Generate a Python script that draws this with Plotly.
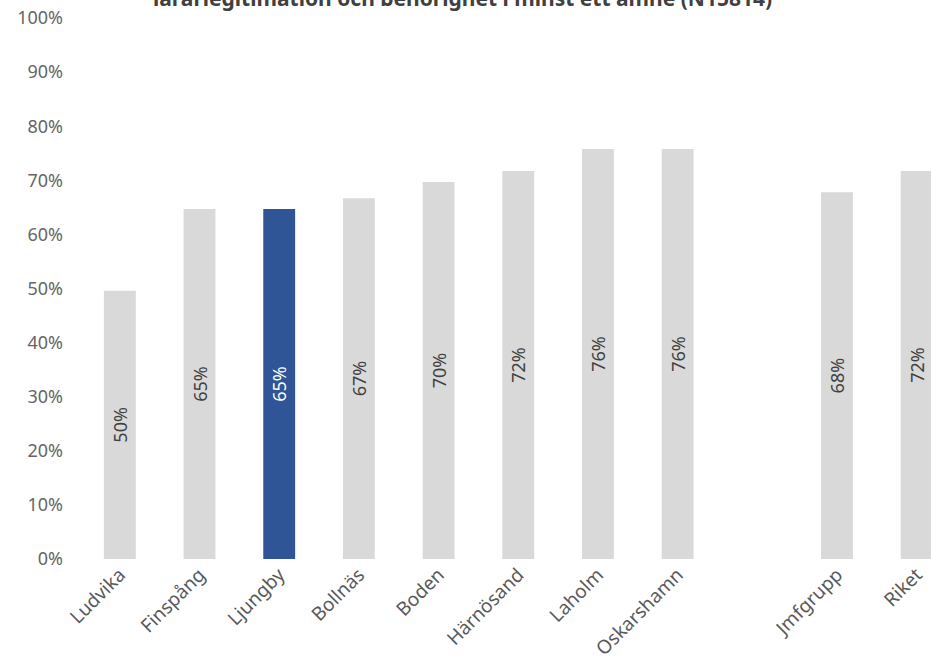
import plotly.graph_objects as go

categories = ["Ludvika", "Finspång", "Ljungby", "Bollnäs", "Boden", "Härnösand",
              "Laholm", "Oskarshamn", " ", "Jmfgrupp", "Riket"]
values = [49.6, 64.7, 64.7, 66.7, 69.7, 71.7, 75.8, 75.8, None, 67.8, 71.7]
highlight = "Ljungby"
title_text = "lärarlegitimation och behörighet i minst ett ämne (N15814)"
y_ticks = list(range(0, 101, 10))
y_ticklabels = [f"{t}%" for t in y_ticks]

colors = ["#2F5597" if c == highlight else "#D9D9D9" for c in categories]
text_colors = ["#FFFFFF" if c == highlight else "#404040" for c in categories]
labels = [f"{round(v)}%" if v is not None else "" for v in values]

font_family = "Noto Sans, Open Sans, sans-serif"

fig = go.Figure(go.Bar(
    x=categories, y=values,
    marker=dict(color=colors, line=dict(width=0)),
    width=0.4,
    text=labels,
    textposition="inside",
    insidetextanchor="middle",
    textangle=-90,
    textfont=dict(family=font_family, size=18, color=text_colors),
    cliponaxis=False,
    hoverinfo="skip",
))

fig.update_layout(
    width=931, height=665,
    margin=dict(l=80, r=0, t=18, b=106),
    paper_bgcolor="white", plot_bgcolor="white",
    showlegend=False,
    uniformtext=dict(minsize=18, mode="show"),
    xaxis=dict(
        type="category",
        categoryorder="array", categoryarray=categories,
        range=[-0.5, 10.18],
        tickangle=-45,
        tickfont=dict(family=font_family, size=19, color="#595959"),
        showline=False, showgrid=False, ticks="",
        automargin=False,
    ),
    yaxis=dict(
        range=[0, 100],
        tickvals=y_ticks, ticktext=y_ticklabels,
        tickfont=dict(family=font_family, size=18, color="#666666"),
        showgrid=False, zeroline=False, showline=False, ticks="",
        ticklabelstandoff=16,
        automargin=False,
    ),
)

fig.add_annotation(
    text=f"<b>{title_text}</b>",
    xref="paper", yref="paper", x=0.449, y=1.0, yshift=20,
    xanchor="center", yanchor="middle",
    showarrow=False,
    font=dict(family=font_family, size=21, color="#404040"),
)

fig.write_html("out.html",
               config={"displayModeBar": False},
               post_script="document.body.style.margin='0';document.body.style.padding='0';")
